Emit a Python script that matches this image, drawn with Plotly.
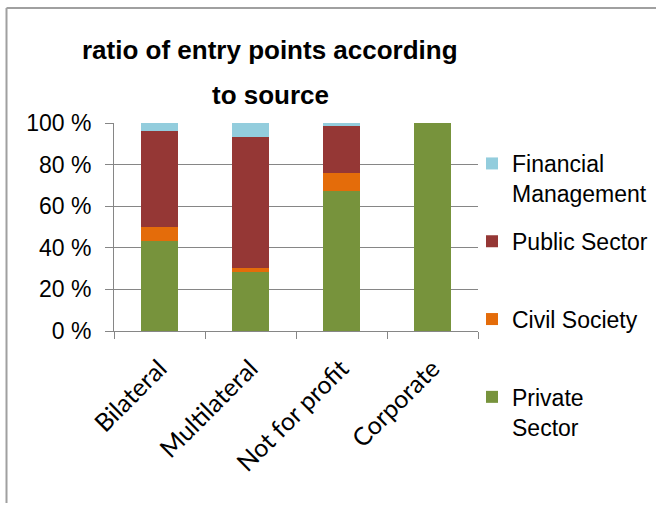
import plotly.graph_objects as go

categories = ["Bilateral", "Multilateral", "Not for profit", "Corporate"]
private_sector = [43.3, 28.5, 67.2, 100.0]
civil_society = [6.5, 1.8, 8.9, 0.0]
public_sector = [46.5, 63.1, 22.5, 0.0]
financial_management = [3.7, 6.6, 1.4, 0.0]

series = [
    ("Private<br>Sector", private_sector, "#77933C"),
    ("Civil Society<br>\u00a0", civil_society, "#E46C0A"),
    ("Public Sector<br>\u00a0", public_sector, "#953735"),
    ("Financial<br>Management", financial_management, "#93CDDD"),
]

fig = go.Figure()
n = len(series)
for i, (name, vals, col) in enumerate(series):
    fig.add_trace(go.Bar(
        x=categories, y=vals, name=name, marker_color=col,
        marker_line_width=0, legendgroup=str(i), legendrank=n - i,
    ))

W, H = 656, 506
L, R, T, B = 114, 178, 123, 175
pw, ph = W - L - R, H - T - B

def px_x(px):
    return (px - L) / pw

def px_y(py):
    return (H - B - py) / ph

title_font = dict(family="Liberation Sans, Arial, sans-serif", size=26, color="black")

fig.update_layout(
    width=W, height=H,
    margin=dict(l=L, r=R, t=T, b=B, autoexpand=False),
    barmode="stack", bargap=0.6,
    paper_bgcolor="white", plot_bgcolor="white",
    font=dict(family="Liberation Sans, Arial, sans-serif", color="black"),
    showlegend=True,
    legend=dict(
        traceorder="grouped", x=px_x(472), xanchor="left", y=px_y(142), yanchor="top",
        font=dict(size=23, family="Liberation Sans, Arial, sans-serif"),
        tracegroupgap=15, valign="top", bgcolor="rgba(0,0,0,0)",
        maxheight=420,
    ),
    xaxis=dict(
        type="category", tickangle=-45, tickson="boundaries", ticks="outside", ticklen=7,
        tickcolor="#868686", showline=True, linecolor="#868686", linewidth=1,
        tickfont=dict(family="Lato, Open Sans, sans-serif", size=25),
        showgrid=False, ticklabelstandoff=12,
    ),
    yaxis=dict(
        range=[0, 100], tickvals=[0, 20, 40, 60, 80, 100],
        ticktext=["0 %", "20 %", "40 %", "60 %", "80 %", "100 %"],
        ticks="outside", ticklen=8, tickcolor="#868686",
        showline=True, linecolor="#868686", linewidth=1,
        showgrid=True, gridcolor="#868686", gridwidth=1,
        tickfont=dict(size=23), zeroline=False, ticklabelstandoff=9,
    ),
    annotations=[
        dict(text="<b>ratio of entry points according</b>", xref="paper", yref="paper",
             x=px_x(270), y=px_y(50), xanchor="center", yanchor="middle",
             showarrow=False, font=title_font),
        dict(text="<b>to source</b>", xref="paper", yref="paper",
             x=px_x(270), y=px_y(95), xanchor="center", yanchor="middle",
             showarrow=False, font=title_font),
    ],
    shapes=[
        dict(type="line", xref="paper", yref="paper",
             x0=px_x(6.5), x1=px_x(700), y0=px_y(8), y1=px_y(8),
             line=dict(color="#a0a0a0", width=2)),
        dict(type="line", xref="paper", yref="paper",
             x0=px_x(6.5), x1=px_x(6.5), y0=px_y(8), y1=px_y(503),
             line=dict(color="#a0a0a0", width=2)),
    ],
)

fig.write_html("out.html")
